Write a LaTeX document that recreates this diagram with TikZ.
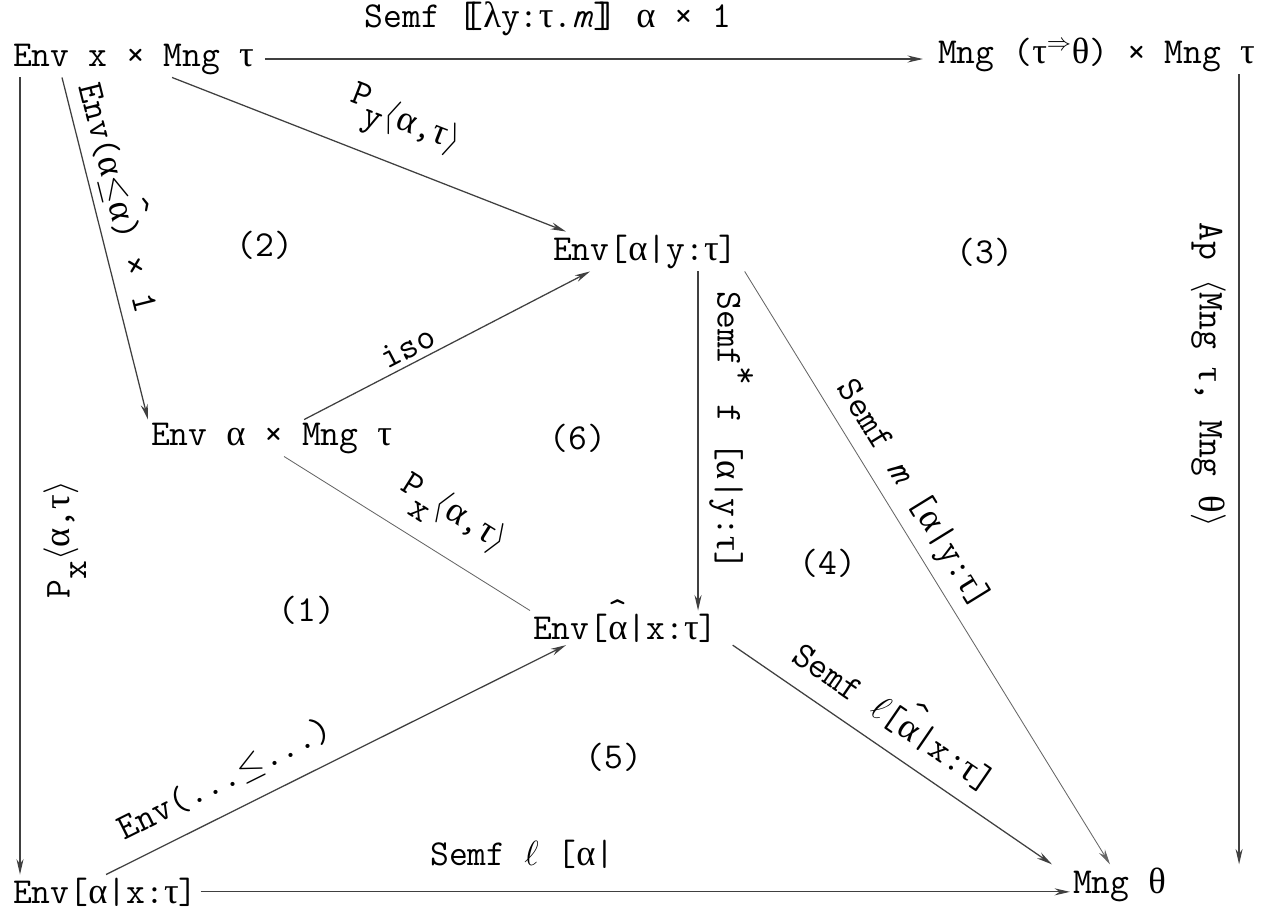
\documentclass[tikz,border=0pt]{standalone}
\usepackage{fontspec}
\setmainfont{Latin Modern Mono}
\newfontfamily\grk{Liberation Serif}
\usepackage{tikz}
\usetikzlibrary{positioning,arrows.meta}

\newcommand{\galpha}{{\grk α}}
\newcommand{\gtau}{{\grk τ}}
\newcommand{\gtheta}{{\grk θ}}
\newcommand{\glambda}{{\grk λ}}
\newcommand{\ahat}{\ooalign{\galpha\cr\hidewidth\raisebox{.45em}{\textasciicircum}\hidewidth\cr}}
\newcommand{\dlb}{[\kern-.36em[}
\newcommand{\drb}{]\kern-.36em]}

\begin{document}
\begin{tikzpicture}[x=0.025cm,y=-0.025cm,
    font=\fontsize{26}{30}\selectfont,
    >={Stealth[length=11pt,width=5pt]},
    obj/.style={inner sep=2pt, anchor=base west},
    map/.style={->, line width=.9pt, draw=black!75},
    thin map/.style={map, line width=.6pt, draw=black!60}]
    \useasboundingbox (0,0) rectangle (1280,916);

    % objects
    \node[obj] (ex) at (10,66) {Env x × Mng \gtau};
    \node[obj] (mm) at (935,63) {Mng (\gtau$^{\Rightarrow}$\gtheta) × Mng \gtau};
    \node[obj] (ey) at (550,260) {Env[\galpha|y:\gtau]};
    \node[obj] (ea) at (148,445) {Env \galpha{} × Mng \gtau};
    \node[obj] (exh) at (530,639) {Env[\ahat|x:\gtau]};
    \node[obj] (exb) at (10,903) {Env[\galpha|x:\gtau]};
    \node[obj] (mt) at (1070,893) {Mng \gtheta};

    % regions
    \node (r1) at (307,610) {(1)};
    \node (r2) at (265,245) {(2)};
    \node (r3) at (985,252) {(3)};
    \node (r4) at (828,563) {(4)};
    \node (r5) at (614,757) {(5)};
    \node (r6) at (578,438) {(6)};

    % maps
    \draw[map] ([xshift=.2cm]ex.east) -- ([xshift=-.3cm]ex.east -| mm.west)
        node[pos=.43, above=.45cm] {Semf \dlb\glambda y:\gtau.\textit{m}\drb{} \galpha{} × 1};
    \coordinate (lt) at ([xshift=.25cm]ex.south west);
    \draw[map, <-] (lt |- exb.north) -- (lt)
        node[pos=.42, sloped, below=.45cm] {P\raisebox{-.45em}{x}$\langle$\galpha,\gtau$\rangle$};
    \draw[map] ([xshift=1.3cm]ex.south west) -- (ea.north west)
        node[pos=.37, sloped, above=.1cm] {Env(\galpha$\leq$\ahat) × 1};
    \draw[map] ([xshift=4.05cm]ex.south west) -- ([xshift=.4cm]ey.north west)
        node[pos=.55, sloped, above=.3cm] {P\raisebox{-.45em}{y}\raisebox{-.2em}{$\langle$\galpha,\gtau$\rangle$}};
    \draw[map] ([xshift=3.9cm]ea.north west) -- ([xshift=1cm]ey.south west)
        node[pos=.39, sloped, above] {iso};
    \draw[thin map, -] ([xshift=3.4cm]ea.south west) -- (exh.north west)
        node[pos=.6, sloped, above=.3cm] {P\raisebox{-.45em}{x}$\langle$\galpha,\gtau$\rangle$};
    \coordinate (vt) at ([xshift=3.7cm]ey.south west);
    \draw[map] (vt) -- (vt |- exh.north)
        node[pos=.47, sloped, above=.15cm] {Semf\raisebox{.45em}{*} f [\galpha|y:\gtau]};
    \draw[thin map] ([xshift=.1cm]ey.south east) -- ([xshift=1cm]mt.north west)
        node[pos=.4, sloped, above=.1cm] {Semf \textit{m} [\galpha|y:\gtau]};
    \draw[map] ([xshift=.3cm]exh.south east) -- ([xshift=-.45cm]mt.north west)
        node[pos=.45, sloped, above=.3cm] {Semf $\ell$[\ahat|x:\gtau]};
    \draw[map] ([xshift=2.4cm]exb.north west) -- ([xshift=.9cm]exh.south west)
        node[pos=.29, sloped, above=.3cm] {Env(...$\leq$...)};
    \draw[map] (exb.east) -- (exb.east -| mt.west)
        node[pos=.37, above=.45cm] {Semf $\ell$ [\galpha|};
    \coordinate (rt) at ([xshift=7.6cm]mm.south west);
    \draw[map] (rt) -- (rt |- mt.north)
        node[pos=.38, sloped, below=.2cm] {Ap $\langle$Mng \gtau, Mng \gtheta$\rangle$};
\end{tikzpicture}
\end{document}
